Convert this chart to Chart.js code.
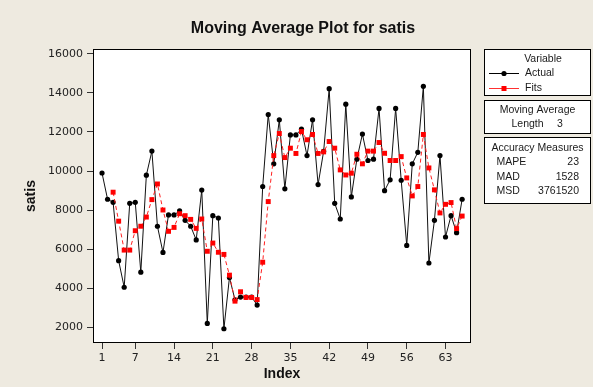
<!DOCTYPE html>
<html>
<head>
<meta charset="utf-8">
<script src="https://cdn.jsdelivr.net/npm/chart.js@4"></script>
<style>
  html, body { margin: 0; padding: 0; background: #eeeae0; }
</style>
</head>
<body>
<canvas id="chartMa" width="593" height="387"></canvas>
<script>
const indexes = [
  1, 2, 3, 4, 5, 6, 7, 8, 9, 10, 11, 12, 13, 14, 15, 16, 17, 18, 19, 20, 21, 22,
  23, 24, 25, 26, 27, 28, 29, 30, 31, 32, 33, 34, 35, 36, 37, 38, 39, 40, 41, 42, 43, 44,
  45, 46, 47, 48, 49, 50, 51, 52, 53, 54, 55, 56, 57, 58, 59, 60, 61, 62, 63, 64, 65, 66,
];
const actual = [
  9900, 8560, 8400, 5420, 4060, 8350, 8400, 4830, 9790, 11020, 7180, 5840, 7760, 7760,
  7960, 7480, 7180, 6480, 9030, 2210, 7720, 7600, 1940, 4560, 3420, 3560, 3560, 3560,
  3150, 9210, 12890, 10370, 12620, 9090, 11850, 11850, 12140, 10790, 12620, 9310, 11010,
  14210, 8350, 7550, 13420, 8680, 10610, 11890, 10540, 10610, 13200, 9000, 9550, 13200,
  9530, 6200, 10370, 10960, 14330, 5300, 7480, 10790, 6630, 7720, 6850, 8560,
];
const fits = [
  null, null, 8920, 7440, 5960, 5960, 6950, 7180, 7650, 8540, 9340, 8010, 6920, 7120,
  7820, 7720, 7530, 7070, 7550, 5900, 6320, 5850, 5740, 4680, 3350, 3830, 3540, 3540,
  3430, 5340, 8440, 10790, 11920, 10690, 11170, 10900, 12020, 11600, 11870, 10900, 10980,
  11510, 11170, 10060, 9800, 9890, 10860, 10370, 11020, 11020, 11460, 10910, 10540, 10540,
  10740, 9650, 8730, 9210, 11870, 10160, 9040, 7860, 8300, 8390, 7060, 7700,
];
const xTicks = [1, 7, 14, 21, 28, 35, 42, 49, 56, 63];
const yTicks = [2000, 4000, 6000, 8000, 10000, 12000, 14000, 16000];
const maLength = '3';
const measureNames = ['MAPE', 'MAD', 'MSD'];
const measureValues = ['23', '1528', '3761520'];

const toPoints = (values) => values.map((v, i) => ({ x: indexes[i], y: v }));

const textColor = '#1a1a1a';
const boxFont = '10.5px "Liberation Sans", Arial, sans-serif';

// white plot area, frame, title and the three info boxes on the right
const minitabDeco = {
  id: 'minitabDeco',
  beforeDraw: (chart) => {
    const { ctx, chartArea: a } = chart;
    ctx.save();
    ctx.fillStyle = '#ffffff';
    ctx.fillRect(a.left, a.top, a.right - a.left, a.bottom - a.top);
    ctx.restore();
  },
  afterDraw: (chart) => {
    const { ctx, chartArea: a } = chart;
    ctx.save();
    ctx.strokeStyle = '#000000';
    ctx.lineWidth = 1;
    ctx.strokeRect(a.left + 0.5, a.top + 0.5, a.right - a.left - 1, a.bottom - a.top - 1);

    ctx.fillStyle = '#111111';
    ctx.font = 'bold 16px "Liberation Sans", Arial, sans-serif';
    ctx.textAlign = 'center';
    ctx.textBaseline = 'alphabetic';
    ctx.fillText('Moving Average Plot for satis', 303, 33);

    // boxes
    ctx.fillStyle = '#ffffff';
    ctx.fillRect(485, 50, 105, 45);
    ctx.fillRect(485, 101, 105, 32);
    ctx.fillRect(485, 138, 105, 65);
    ctx.strokeRect(484.5, 49.5, 106, 46);
    ctx.strokeRect(484.5, 100.5, 106, 33);
    ctx.strokeRect(484.5, 137.5, 106, 66);

    ctx.fillStyle = textColor;
    ctx.font = boxFont;
    ctx.textBaseline = 'middle';
    ctx.textAlign = 'center';
    ctx.fillText('Variable', 543, 59);

    // Actual sample
    ctx.strokeStyle = '#000000';
    ctx.beginPath();
    ctx.moveTo(489, 73.5);
    ctx.lineTo(519, 73.5);
    ctx.stroke();
    ctx.fillStyle = '#000000';
    ctx.beginPath();
    ctx.arc(504, 73.5, 2.6, 0, Math.PI * 2);
    ctx.fill();
    // Fits sample
    ctx.strokeStyle = '#ff3030';
    ctx.beginPath();
    ctx.moveTo(489, 88.5);
    ctx.lineTo(519, 88.5);
    ctx.stroke();
    ctx.fillStyle = '#ff0000';
    ctx.fillRect(501.5, 86, 5, 5);

    ctx.fillStyle = textColor;
    ctx.textAlign = 'left';
    ctx.fillText(chart.data.datasets[1].label, 525, 73.5);
    ctx.fillText(chart.data.datasets[0].label, 525, 88);

    ctx.textAlign = 'center';
    ctx.fillText('Moving Average', 537.5, 110.5);
    ctx.textAlign = 'left';
    ctx.fillText('Length', 511.5, 124.5);
    ctx.textAlign = 'center';
    ctx.fillText(maLength, 560, 124.5);

    ctx.fillText('Accuracy Measures', 537.5, 148.5);
    measureNames.forEach((name, i) => {
      const y = 162 + i * 14.8;
      ctx.textAlign = 'left';
      ctx.fillText(name, 496.5, y);
      ctx.textAlign = 'right';
      ctx.fillText(measureValues[i], 579, y);
    });
    ctx.restore();
  },
};

const tickFont = { family: '"DejaVu Sans", sans-serif', size: 11 };
const axisTitleFont = { family: '"Liberation Sans", Arial, sans-serif', size: 14, weight: 'bold' };

new Chart(document.querySelector('#chartMa'), {
  type: 'line',
  data: {
    datasets: [
      {
        label: 'Fits',
        data: toPoints(fits),
        order: 0,
        borderColor: '#ff2020',
        backgroundColor: '#ff0000',
        borderWidth: 1,
        borderDash: [4, 3],
        pointStyle: 'rect',
        pointRadius: 3.5,
        pointBorderWidth: 0,
        tension: 0,
        spanGaps: false,
      },
      {
        label: 'Actual',
        data: toPoints(actual),
        order: 1,
        borderColor: '#111111',
        backgroundColor: '#000000',
        borderWidth: 1,
        pointStyle: 'circle',
        pointRadius: 2.6,
        pointBorderWidth: 0,
        tension: 0,
      },
    ],
  },
  options: {
    responsive: false,
    animation: false,
    layout: {
      padding: { top: 49, right: 122, left: 0, bottom: 0 },
    },
    plugins: {
      legend: { display: false },
      tooltip: { enabled: false },
      title: { display: false },
    },
    scales: {
      x: {
        type: 'linear',
        min: -0.63,
        max: 67.6,
        afterBuildTicks: (scale) => {
          scale.ticks = xTicks.map((v) => ({ value: v }));
        },
        afterFit: (scale) => {
          scale.height = 44;
        },
        border: { display: false },
        grid: {
          drawOnChartArea: false,
          drawTicks: true,
          tickLength: 6,
          color: '#333333',
        },
        ticks: {
          font: tickFont,
          color: '#222222',
          padding: 3,
          autoSkip: false,
          maxRotation: 0,
          callback: (value) => String(value),
        },
        title: {
          display: true,
          text: 'Index',
          font: axisTitleFont,
          color: '#111111',
          padding: { top: 0, bottom: 4 },
        },
      },
      y: {
        type: 'linear',
        min: 1211,
        max: 16240,
        afterBuildTicks: (scale) => {
          scale.ticks = yTicks.map((v) => ({ value: v }));
        },
        afterFit: (scale) => {
          scale.width = 93;
        },
        border: { display: false },
        grid: {
          drawOnChartArea: false,
          drawTicks: true,
          tickLength: 6,
          color: '#333333',
        },
        ticks: {
          font: tickFont,
          color: '#222222',
          padding: 4,
          callback: (value) => String(value),
        },
        title: {
          display: true,
          text: 'satis',
          font: axisTitleFont,
          color: '#111111',
          padding: { top: 23, bottom: 0 },
        },
      },
    },
  },
  plugins: [minitabDeco],
});
</script>
</body>
</html>
